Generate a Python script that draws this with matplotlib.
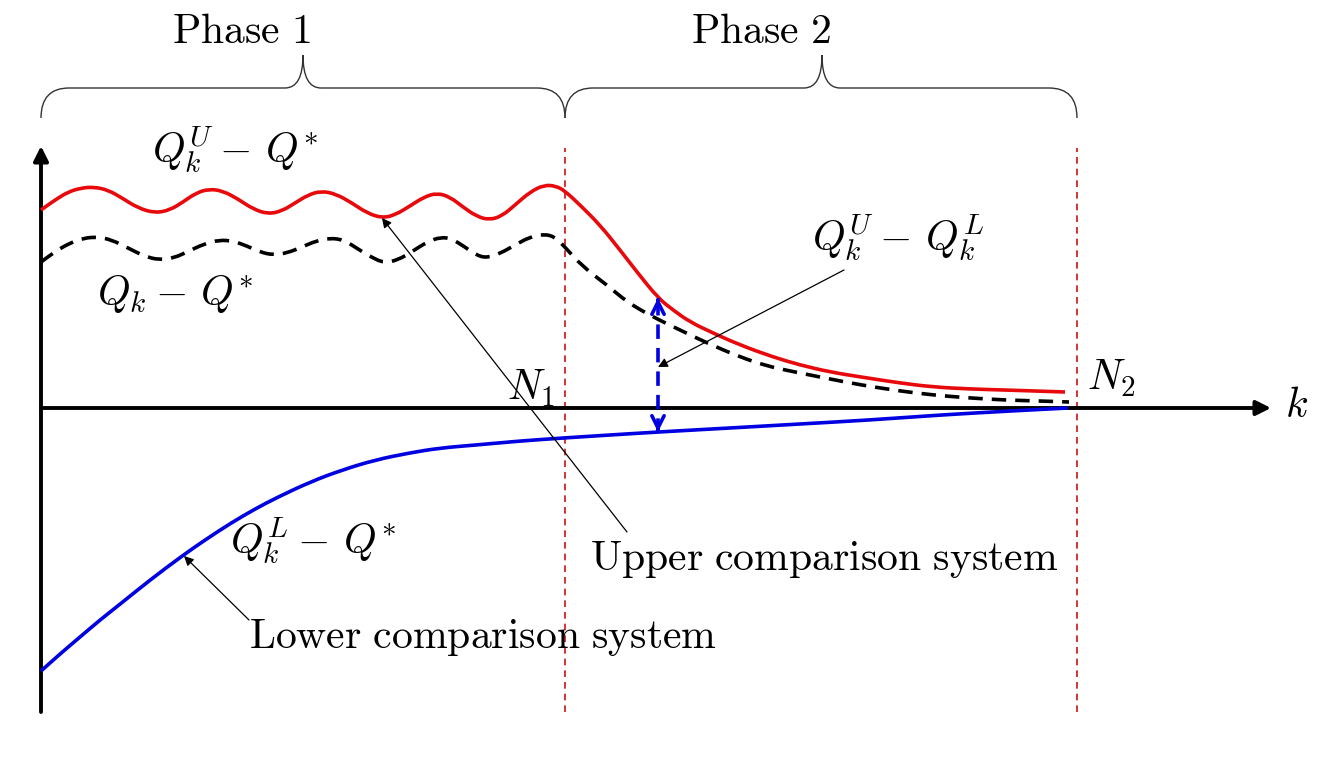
import matplotlib
matplotlib.use("Agg")
import matplotlib.pyplot as plt
from matplotlib.path import Path
from matplotlib.patches import PathPatch

plt.rcParams["mathtext.fontset"] = "cm"

# iteration index k, and distance from the fixed point (schematic units)
k_upper = [0, 14, 27, 40, 53, 67, 81, 97, 114, 129, 142, 155, 168, 182, 197, 212, 227, 241, 254, 267,
           280, 295, 311, 326, 341, 354, 369, 383, 396, 409, 422, 435, 448, 461, 474, 489, 503, 515, 524, 539,
           559, 579, 596, 617, 632, 649, 672, 699, 732, 759, 789, 820, 859, 892, 929, 963, 994, 1024]
q_upper = [198, 208, 216, 220, 221, 218, 210, 200, 195, 198, 206, 215, 219, 217, 209, 199, 194, 197, 205, 213,
           217, 214, 205, 195, 190, 193, 202, 211, 215, 211, 201, 192, 188, 192, 203, 216, 223, 222, 217, 203,
           183, 158, 136, 110, 98, 86, 75, 63, 51, 43, 36, 31, 25, 21, 19, 18, 17, 16]

k_true = [0, 15, 29, 43, 57, 71, 87, 103, 118, 133, 148, 163, 178, 192, 206, 219, 232, 246, 261, 275,
          289, 303, 317, 330, 343, 357, 372, 386, 400, 411, 424, 435, 446, 460, 474, 489, 503, 514, 522, 542,
          566, 586, 612, 639, 666, 699, 726, 749, 784, 820, 859, 892, 929, 963, 999, 1028]
q_true = [146, 157, 165, 170, 171, 168, 160, 152, 148, 150, 157, 164, 168, 167, 162, 156, 153, 155, 161, 167,
          170, 168, 159, 151, 145, 148, 157, 166, 171, 169, 161, 153, 150, 155, 163, 171, 174, 171, 163, 141,
          123, 106, 91, 78, 65, 51, 42, 37, 30, 23, 17, 13, 10, 8, 7, 6]

k_lower = [0, 19, 39, 59, 78, 109, 141, 164, 190, 214, 235, 269, 301, 334, 368, 399, 435, 479, 522, 569,
           617, 689, 759, 829, 899, 969, 1027]
q_lower = [-263, -246, -229, -212, -197, -172, -148, -132, -115, -101, -90, -74, -62, -52, -45, -40, -37, -33, -30, -27,
           -24, -20, -16, -12, -7, -3, 0]

N1 = 524
N2 = 1036
k_gap = 617          # where the gap Q^U - Q^L is marked
phases = ["Phase 1", "Phase 2"]

fig = plt.figure(figsize=(13.24, 7.58), dpi=100)
ax = fig.add_axes([0, 0, 1, 1])
ax.set_xlim(-41, 1283)
ax.set_ylim(-350, 408)
ax.axis("off")


def smooth_line(xs, ys, **kw):
    # quadratic b-spline path through the read points (drawing only)
    pts = list(zip(xs, ys))
    verts = [pts[0], ((pts[0][0] + pts[1][0]) / 2, (pts[0][1] + pts[1][1]) / 2)]
    codes = [Path.MOVETO, Path.LINETO]
    for i in range(1, len(pts) - 1):
        mid = ((pts[i][0] + pts[i + 1][0]) / 2, (pts[i][1] + pts[i + 1][1]) / 2)
        verts += [pts[i], mid]
        codes += [Path.CURVE3, Path.CURVE3]
    verts.append(pts[-1])
    codes.append(Path.LINETO)
    ax.add_patch(PathPatch(Path(verts, codes), fill=False, capstyle="butt", **kw))


# axes with arrows
ax.annotate("", xy=(1230, 0), xytext=(0, 0),
            arrowprops=dict(arrowstyle="-|>", lw=2.8, color="black", mutation_scale=22, shrinkA=0, shrinkB=0))
ax.annotate("", xy=(0, 262), xytext=(0, -304),
            arrowprops=dict(arrowstyle="-|>", lw=2.8, color="black", mutation_scale=22, shrinkA=0, shrinkB=0))

# phase boundaries
for n in [N1, N2]:
    ax.plot([n, n], [-304, 260], color="#d01010", lw=1.2, ls=(0, (4, 3)), zorder=1)

smooth_line(k_upper, q_upper, color="#e8090d", lw=2.6, zorder=3)
smooth_line(k_true, q_true, color="black", lw=2.6, ls=(0, (4, 2.5)), zorder=3)
smooth_line(k_lower, q_lower, color="#0000e0", lw=2.6, zorder=3)

# gap arrow between upper and lower
top = q_upper[k_upper.index(k_gap)]
bot = q_lower[k_lower.index(k_gap)]
ax.plot([k_gap, k_gap], [top - 3, bot + 3], color="#0000e0", lw=2.6, ls=(0, (4, 2.5)), zorder=4)
head = dict(arrowstyle="->", lw=2.6, color="#0000e0", mutation_scale=22, shrinkA=0, shrinkB=0)
ax.annotate("", xy=(k_gap, top), xytext=(k_gap, top - 2), arrowprops=head, zorder=4)
ax.annotate("", xy=(k_gap, bot), xytext=(k_gap, bot + 2), arrowprops=head, zorder=4)

# braces
def brace(x0, x1, xm):
    verts = [(x0, 290), (x0, 320), (x0 + 28, 320), (xm - 18, 320), (xm, 320), (xm, 353),
             (xm, 320), (xm + 18, 320), (x1 - 28, 320), (x1, 320), (x1, 290)]
    codes = [Path.MOVETO, Path.CURVE3, Path.CURVE3, Path.LINETO, Path.CURVE3, Path.CURVE3,
             Path.CURVE3, Path.CURVE3, Path.LINETO, Path.CURVE3, Path.CURVE3]
    ax.add_patch(PathPatch(Path(verts, codes), fill=False, lw=1.0, color="#333333"))

brace(0, N1, 262)
brace(N1, N2, 781)

fs = 30
ax.text(131, 365, r"$\mathrm{%s}$" % phases[0].replace(" ", r"\ "), fontsize=fs, ha="left", va="baseline")
ax.text(650, 365, r"$\mathrm{%s}$" % phases[1].replace(" ", r"\ "), fontsize=fs, ha="left", va="baseline")

ax.text(111, 246, r"$Q_k^U -\, Q^{\ast}$", fontsize=fs, ha="left", va="baseline")
ax.text(56, 103, r"$Q_k -\, Q^{\ast}$", fontsize=fs, ha="left", va="baseline")
ax.text(771, 158, r"$Q_k^U -\, Q_k^L$", fontsize=fs, ha="left", va="baseline")
ax.text(189, -145, r"$Q_k^L -\, Q^{\ast}$", fontsize=fs, ha="left", va="baseline")
ax.text(466, 8, r"$N_1$", fontsize=fs, ha="left", va="baseline")
ax.text(1046, 18, r"$N_2$", fontsize=fs, ha="left", va="baseline")
ax.text(1244, -9, r"$k$", fontsize=fs, ha="left", va="baseline")

ax.text(549, -162, r"$\mathrm{Upper\ comparison\ system}$", fontsize=fs, ha="left", va="baseline")
ax.text(208, -240, r"$\mathrm{Lower\ comparison\ system}$", fontsize=fs, ha="left", va="baseline")

thin = dict(arrowstyle="-|>", lw=0.9, color="black", mutation_scale=14, shrinkA=0, shrinkB=0)
ax.annotate("", xy=(341, 190), xytext=(586, -124), arrowprops=thin)
ax.annotate("", xy=(143, -148), xytext=(208, -212), arrowprops=thin)
ax.annotate("", xy=(k_gap, 41), xytext=(803, 138), arrowprops=thin)

fig.savefig("out.png", dpi=100)
